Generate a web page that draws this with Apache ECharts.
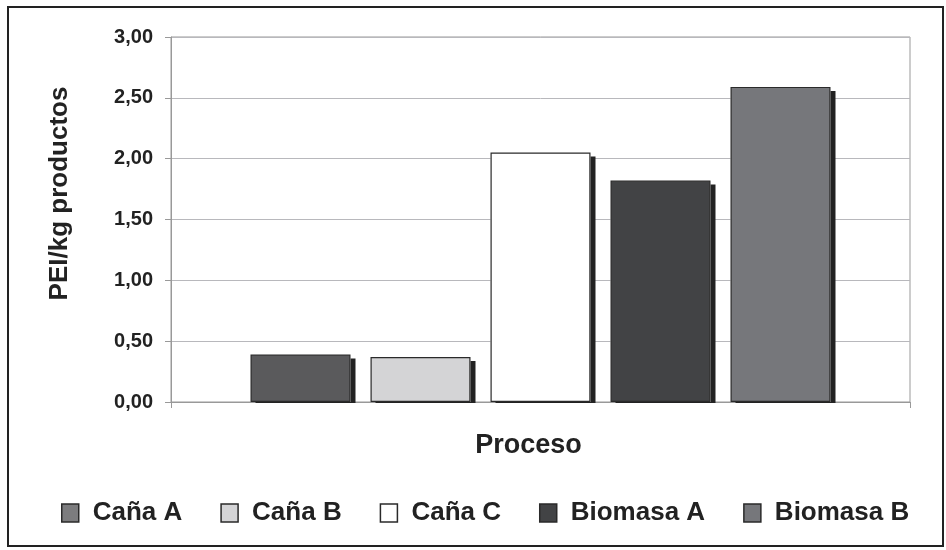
<!DOCTYPE html>
<html>
<head>
<meta charset="utf-8">
<script src="https://cdn.jsdelivr.net/npm/echarts@6/dist/echarts.min.js"></script>
<style>
  html, body { margin: 0; padding: 0; background: #fff; }
  #chart { width: 946px; height: 550px; }
</style>
</head>
<body>
<div id="chart"></div>
<script>
  // datos
  var categorias = ['Proceso'];
  var series_nombres = ['Caña A', 'Caña B', 'Caña C', 'Biomasa A', 'Biomasa B'];
  var valores = [0.39, 0.37, 2.05, 1.82, 2.59];
  var colores = ['#5a5a5c', '#d4d4d6', '#ffffff', '#424345', '#76777b'];
  var colores_leyenda = ['#7c7c7e', '#d4d4d6', '#ffffff', '#424345', '#76777b'];
  var ticks_y = [0, 0.5, 1, 1.5, 2, 2.5, 3];

  var fuente = 'Liberation Sans, Arial, sans-serif';

  // barras principales
  var series = series_nombres.map(function (nombre, i) {
    return {
      name: nombre,
      type: 'bar',
      xAxisIndex: 0,
      z: 3,
      data: [valores[i]],
      barWidth: 100,
      barGap: '20%',
      itemStyle: {
        color: colores[i],
        borderColor: '#2a2a2a',
        borderWidth: 1.2
      }
    };
  });
  // sombras (mismo tamaño, en un eje gemelo, dibujadas debajo)
  series_nombres.forEach(function (nombre, i) {
    series.push({
      name: 'sombra ' + i,
      type: 'bar',
      xAxisIndex: 1,
      z: 2,
      silent: true,
      data: [valores[i]],
      barWidth: 100,
      barGap: '20%',
      itemStyle: {
        color: '#ffffff',
        shadowColor: '#222',
        shadowBlur: 0,
        shadowOffsetX: 5,
        shadowOffsetY: 4
      }
    });
  });

  var myChart = echarts.init(document.getElementById('chart'));
  var option = {
    animation: false,
    textStyle: { fontFamily: fuente },
    graphic: [{
      type: 'rect',
      shape: { x: 8, y: 7, width: 935, height: 539 },
      style: { fill: 'none', stroke: '#222', lineWidth: 2 },
      silent: true
    }, {
      // tapa la parte de la sombra que cae bajo la linea base
      type: 'rect',
      z: 100,
      shape: { x: 176, y: 403, width: 728, height: 6 },
      style: { fill: '#fff' },
      silent: true
    }],
    grid: {
      left: 171, right: 36, top: 37, bottom: 148,
      show: true, borderColor: '#999', borderWidth: 1
    },
    legend: {
      top: 495,
      left: 56,
      itemWidth: 17,
      itemHeight: 18,
      itemGap: 38,
      icon: 'rect',
      data: series_nombres.map(function (n, i) {
        return { name: n, itemStyle: { color: colores_leyenda[i], borderColor: '#2a2a2a', borderWidth: 1.5 } };
      }),
      textStyle: { fontSize: 26, fontWeight: 'bold', color: '#222', fontFamily: fuente, padding: [0, 0, 0, 9] }
    },
    xAxis: [{
      type: 'category',
      data: categorias,
      name: 'Proceso',
      nameLocation: 'middle',
      nameGap: 30,
      nameTextStyle: { fontSize: 27, fontWeight: 'bold', color: '#222', padding: [0, 24, 0, 0] },
      axisLabel: { show: false },
      axisLine: { lineStyle: { color: '#999' } },
      axisTick: { show: true, length: 6, lineStyle: { color: '#999' } }
    }, {
      type: 'category',
      data: categorias,
      show: false
    }],
    yAxis: {
      type: 'value',
      min: ticks_y[0],
      max: ticks_y[ticks_y.length - 1],
      interval: 0.5,
      name: 'PEI/kg productos',
      nameLocation: 'middle',
      nameGap: 98,
      nameRotate: 90,
      nameTextStyle: { fontSize: 26, fontWeight: 'bold', color: '#222', padding: [0, 0, 0, 52] },
      axisLine: { show: true, lineStyle: { color: '#999' } },
      axisTick: { show: true, length: 6, lineStyle: { color: '#999' } },
      axisLabel: {
        margin: 18,
        fontSize: 20,
        fontWeight: 'bold',
        color: '#222',
        formatter: function (v) { return v.toFixed(2).replace('.', ','); }
      },
      splitLine: { lineStyle: { color: '#b8b8bc', width: 1 } }
    },
    series: series
  };
  myChart.setOption(option);
</script>
</body>
</html>
